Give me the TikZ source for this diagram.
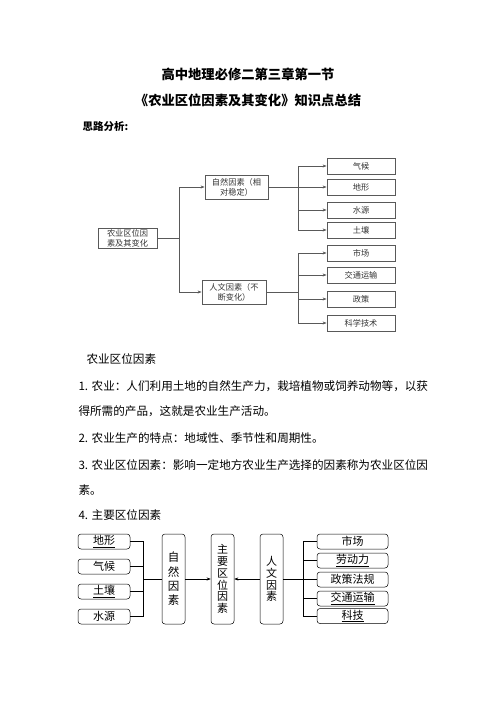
\documentclass[tikz,border=0pt]{standalone}
\usepackage{fontspec}
\setmainfont{Noto Sans CJK SC}
\usetikzlibrary{arrows.meta}

\begin{document}
\begin{tikzpicture}[
    x=1pt, y=-1pt,
    >={Stealth[length=4pt,width=3pt]},
    box/.style = {draw=black!65, line width=0.8pt, inner sep=0pt, font=\fontsize{8.2}{10}\selectfont, text=black!80},
    leaf/.style = {box, minimum width=68pt, minimum height=16pt},
    link/.style = {draw=black!65, line width=0.8pt},
    rbox/.style = {draw, rounded corners=3pt, inner sep=0pt, line width=0.5pt, font=\fontsize{11}{12}\selectfont},
    sidebox/.style = {rbox, minimum height=15pt},
    colbox/.style = {rbox, minimum width=23pt, minimum height=90pt, align=center},
    para/.style = {anchor=west, font=\fontsize{11.6}{12}\selectfont}
  ]
  \useasboundingbox (0,0) rectangle (496,702);

  % heading
  \node[font=\bfseries\fontsize{13.3}{15}\selectfont] (t1) at (248,74) {高中地理必修二第三章第一节};
  \node[font=\bfseries\fontsize{13.3}{15}\selectfont] (t2) at (248,100) {《农业区位因素及其变化》知识点总结};
  \node[anchor=west, font=\bfseries\fontsize{10.5}{12}\selectfont] (t3) at (79,127) {思路分析:};

  % first chart
  \node[box, minimum width=59pt, minimum height=20pt, align=center] (root) at (127.5,238) {农业区位因\\素及其变化};
  \node[box, minimum width=63pt, minimum height=24pt, align=center] (nat) at (236.5,187) {自然因素（相\\对稳定）};
  \node[box, minimum width=64pt, minimum height=24pt, align=center] (hum) at (234,292) {人文因素（不\\断变化）};
  \node[leaf] (qh) at (361,166) {气候};
  \node[leaf] (dx) at (361,187) {地形};
  \node[leaf] (sy) at (361,210) {水源};
  \node[leaf] (tr) at (361,230) {土壤};
  \node[leaf] (sc) at (361,253) {市场};
  \node[leaf] (jt) at (361,275) {交通运输};
  \node[leaf] (zc) at (361,299) {政策};
  \node[leaf] (kx) at (361,323) {科学技术};
  \coordinate (j1) at (179,238);
  \coordinate (j2) at (298,187);
  \coordinate (j3) at (298,292);
  \draw[link] (root) -- (j1);
  \draw[link,->] (j1) |- (nat);
  \draw[link,->] (j1) |- (hum);
  \draw[link] (nat) -- (j2);
  \draw[link] (hum) -- (j3);
  \draw[link,->] (j2) |- (qh);
  \draw[link,->] (j2) |- (dx);
  \draw[link,->] (j2) |- (sy);
  \draw[link,->] (j2) |- (tr);
  \draw[link,->] (j3) |- (sc);
  \draw[link,->] (j3) |- (jt);
  \draw[link,->] (j3) |- (zc);
  \draw[link,->] (j3) |- (kx);

  % text
  \node[para] (p0) at (83,359) {农业区位因素};
  \node[para] (p1) at (75,386) {1. 农业：人们利用土地的自然生产力，栽培植物或饲养动物等，以获};
  \node[para] (p2) at (75,411) {得所需的产品，这就是农业生产活动。};
  \node[para] (p3) at (75,438) {2. 农业生产的特点：地域性、季节性和周期性。};
  \node[para] (p4) at (75,465) {3. 农业区位因素：影响一定地方农业生产选择的因素称为农业区位因};
  \node[para] (p5) at (75,490) {素。};
  \node[para] (p6) at (75,515) {4. 主要区位因素};

  % second chart
  \node[sidebox, minimum width=52pt] (a1) at (104,541.5) {\underline{地形}};
  \node[sidebox, minimum width=52pt] (a2) at (104,566.5) {气候};
  \node[sidebox, minimum width=52pt] (a3) at (104,591.5) {\underline{土壤}};
  \node[sidebox, minimum width=52pt] (a4) at (104,616.5) {水源};
  \node[colbox, font=\fontsize{11.5}{14.3}\selectfont] (zr) at (173.5,579) {自\\然\\因\\素};
  \node[colbox, font=\fontsize{11}{11.7}\selectfont] (zy) at (222.5,579) {主\\要\\区\\位\\因\\素};
  \node[colbox, font=\fontsize{11}{11.7}\selectfont] (rw) at (271.5,579) {人\\文\\因\\素};
  \node[sidebox, minimum width=71pt] (b1) at (352.5,541.5) {市场};
  \node[sidebox, minimum width=71pt] (b2) at (352.5,560.5) {\underline{劳动力}};
  \node[sidebox, minimum width=71pt] (b3) at (352.5,579.5) {政策法规};
  \node[sidebox, minimum width=71pt] (b4) at (352.5,598.5) {\underline{交通运输}};
  \node[sidebox, minimum width=71pt] (b5) at (352.5,616) {\underline{科技}};
  \coordinate (jl) at (143,579);
  \coordinate (jr) at (303,579);
  \draw (a1) -| (jl);
  \draw (a2) -| (jl);
  \draw (a3) -| (jl);
  \draw (a4) -| (jl);
  \draw (jl) -- (zr);
  \draw[->] (zr) -- (zy);
  \draw[->] (rw) -- (zy);
  \draw (rw) -- (jr);
  \draw (jr) |- (b1);
  \draw (jr) |- (b2);
  \draw (jr) |- (b3);
  \draw (jr) |- (b4);
  \draw (jr) |- (b5);
\end{tikzpicture}
\end{document}
